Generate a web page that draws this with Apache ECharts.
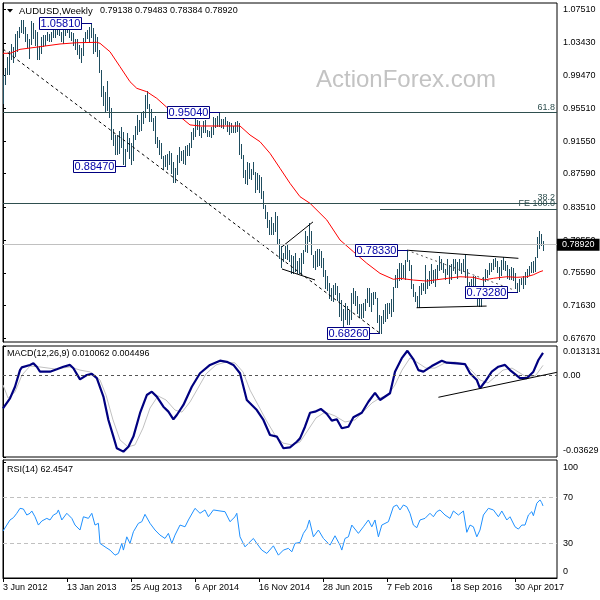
<!DOCTYPE html>
<html><head><meta charset="utf-8">
<script src="https://cdn.jsdelivr.net/npm/echarts@6/dist/echarts.min.js"></script>
<style>html,body{margin:0;padding:0;background:#fff}#c{width:600px;height:600px}</style>
</head><body><div id="c"></div>
<script>
// ---------- DATA ----------
const symbolTitle = 'AUDUSD,Weekly';
const lastOHLC = ['0.79138', '0.79483', '0.78384', '0.78920'];
const lastClose = 0.7892;

// weekly bars, first bar = week of 3 Jun 2012
const barHigh = [
0.9960,1.0040,1.0170,1.0245,1.0330,1.0290,1.0445,1.0485,1.0530,1.0615,
1.0625,1.0530,1.0450,1.0390,1.0610,1.0580,1.0500,1.0470,1.0300,1.0420,
1.0440,1.0440,1.0480,1.0455,1.0480,1.0500,1.0520,1.0560,1.0560,1.0480,
1.0500,1.0560,1.0600,1.0585,1.0470,1.0460,1.0390,1.0385,1.0320,1.0280,
1.0400,1.0480,1.0495,1.0530,1.0581,1.0520,1.0450,1.0420,1.0260,1.0010,
0.9820,0.9750,0.9880,0.9690,0.9560,0.9300,0.9230,0.9230,0.9280,0.9320,
0.9260,0.9060,0.9250,0.9190,0.9130,0.9230,0.9340,0.9465,0.9410,0.9490,
0.9520,0.9710,0.9757,0.9600,0.9540,0.9430,0.9460,0.9200,0.9170,0.9130,
0.8970,0.8980,0.9000,0.9030,0.9010,0.8900,0.8830,0.8990,0.9080,0.9030,
0.9050,0.9100,0.9110,0.9130,0.9260,0.9310,0.9461,0.9410,0.9400,0.9330,
0.9400,0.9410,0.9290,0.9280,0.9320,0.9440,0.9430,0.9460,0.9504,0.9420,
0.9420,0.9440,0.9400,0.9380,0.9370,0.9340,0.9380,0.9400,0.9370,0.9120,
0.8990,0.8800,0.8900,0.8890,0.8820,0.8900,0.8780,0.8770,0.8740,0.8720,
0.8550,0.8380,0.8300,0.8200,0.8230,0.8160,0.8290,0.8250,0.7970,0.7880,
0.7800,0.7880,0.7910,0.7840,0.7780,0.7760,0.7800,0.7700,0.7740,0.7800,
0.7840,0.8070,0.8000,0.8163,0.8070,0.7780,0.7820,0.7850,0.7850,0.7820,
0.7740,0.7590,0.7520,0.7440,0.7380,0.7410,0.7440,0.7400,0.7320,0.7230,
0.7120,0.7200,0.7160,0.7100,0.7320,0.7380,0.7340,0.7280,0.7180,0.7180,
0.7200,0.7240,0.7380,0.7380,0.7320,0.7330,0.7330,0.7250,0.7050,0.7040,
0.7110,0.7180,0.7190,0.7200,0.7240,0.7390,0.7530,0.7600,0.7680,0.7680,
0.7660,0.7720,0.7833,0.7720,0.7660,0.7420,0.7330,0.7280,0.7400,0.7440,
0.7440,0.7650,0.7480,0.7580,0.7670,0.7590,0.7600,0.7650,0.7760,0.7730,
0.7680,0.7610,0.7730,0.7660,0.7670,0.7730,0.7730,0.7690,0.7730,0.7680,
0.7730,0.7778,0.7600,0.7450,0.7480,0.7520,0.7520,0.7330,0.7240,0.7320,
0.7510,0.7610,0.7590,0.7680,0.7680,0.7730,0.7740,0.7700,0.7630,0.7710,
0.7749,0.7700,0.7650,0.7600,0.7630,0.7620,0.7560,0.7440,0.7480,0.7500,
0.7520,0.7570,0.7600,0.7640,0.7690,0.7700,0.7750,0.7990,0.8066,0.8030,
0.7948];
const barLow = [
0.9615,0.9840,0.9970,0.9970,1.0150,1.0110,1.0180,1.0250,1.0410,1.0480,
1.0460,1.0360,1.0290,1.0160,1.0330,1.0400,1.0320,1.0150,1.0150,1.0220,
1.0310,1.0320,1.0380,1.0360,1.0360,1.0410,1.0420,1.0445,1.0440,1.0370,
1.0345,1.0440,1.0480,1.0420,1.0380,1.0320,1.0275,1.0205,1.0160,1.0115,
1.0200,1.0360,1.0400,1.0350,1.0420,1.0220,1.0240,1.0180,0.9990,0.9700,
0.9590,0.9520,0.9530,0.9450,0.9180,0.9110,0.9000,0.9000,0.9010,0.9080,
0.8880,0.8847,0.9040,0.8955,0.8880,0.8920,0.9180,0.9240,0.9280,0.9290,
0.9370,0.9450,0.9560,0.9400,0.9400,0.9290,0.9130,0.9080,0.8995,0.8950,
0.8820,0.8850,0.8820,0.8880,0.8770,0.8660,0.8660,0.8760,0.8900,0.8920,
0.8890,0.8880,0.8990,0.8980,0.9080,0.9180,0.9220,0.9300,0.9230,0.9200,
0.9260,0.9260,0.9210,0.9210,0.9200,0.9240,0.9320,0.9340,0.9340,0.9320,
0.9310,0.9360,0.9280,0.9240,0.9260,0.9270,0.9270,0.9280,0.9000,0.8950,
0.8720,0.8650,0.8640,0.8710,0.8700,0.8750,0.8540,0.8570,0.8540,0.8460,
0.8350,0.8220,0.8110,0.8035,0.8030,0.8030,0.8060,0.7920,0.7740,0.7625,
0.7700,0.7740,0.7730,0.7700,0.7560,0.7560,0.7580,0.7560,0.7560,0.7530,
0.7680,0.7820,0.7810,0.7940,0.7790,0.7630,0.7600,0.7640,0.7650,0.7630,
0.7520,0.7370,0.7350,0.7260,0.7230,0.7220,0.7300,0.7230,0.7040,0.6990,
0.6900,0.7000,0.6940,0.6935,0.7000,0.7200,0.7170,0.7070,0.7020,0.7010,
0.7020,0.7110,0.7210,0.7160,0.7100,0.7180,0.7250,0.6960,0.6826,0.6830,
0.6950,0.6975,0.7010,0.7070,0.7040,0.7100,0.7390,0.7390,0.7470,0.7480,
0.7510,0.7480,0.7700,0.7590,0.7370,0.7280,0.7220,0.7145,0.7150,0.7300,
0.7350,0.7320,0.7370,0.7410,0.7440,0.7450,0.7400,0.7500,0.7590,0.7600,
0.7570,0.7480,0.7550,0.7440,0.7480,0.7590,0.7560,0.7500,0.7590,0.7560,
0.7580,0.7510,0.7380,0.7310,0.7380,0.7370,0.7310,0.7170,0.7160,0.7160,
0.7310,0.7460,0.7510,0.7540,0.7580,0.7600,0.7640,0.7570,0.7490,0.7530,
0.7610,0.7590,0.7500,0.7490,0.7490,0.7470,0.7370,0.7328,0.7340,0.7420,
0.7370,0.7420,0.7510,0.7530,0.7570,0.7570,0.7580,0.7750,0.7860,0.7900,
0.7838];

// moving average (red), read at bar positions [barIndex, value]
const maLine = [[0,1.0217],[3.5,1.0217],[8.5,1.0265],[18.5,1.0297],[28.5,1.0330],[36.9,1.0345],[46.9,1.0350],[48.5,1.0338],
[53.5,1.0236],[58.5,1.0055],[63.5,0.9873],[66.9,0.9793],[71.9,0.9752],[76.9,0.9672],[81.9,0.9563],[88.5,0.9450],[93.5,0.9350],
[98.5,0.9337],[118.5,0.9337],[123.5,0.9228],[128.5,0.9147],[133.5,0.9006],[138.5,0.8825],[143.5,0.8643],[148.5,0.8481],
[153.5,0.8401],[161.9,0.8199],[168.5,0.7957],[175.2,0.7815],[181.9,0.7675],[188.5,0.7553],[195.2,0.7481],[198.5,0.7493],
[205.2,0.7472],[211.9,0.7460],[218.5,0.7481],[228.5,0.7512],[235.2,0.7505],[240.2,0.7472],[245.2,0.7493],[251.9,0.7512],
[256.9,0.7505],[261.9,0.7512],[265.2,0.7536],[268.5,0.7573],[270,0.7585]];

// labelled swing points
const noteIdx = [44, 61, 108, 188, 202, 257];
const notePrice = [1.0581, 0.8847, 0.9504, 0.6826, 0.7833, 0.7328];

// drawn trend lines [barIndex, price]
const trendMain = [[0,1.0269],[188.5,0.6828]];
const wedgeUpper = [[139.5,0.7875],[155,0.8176]];
const wedgeLower = [[139.5,0.7606],[156,0.7473]];
const channelUpper = [[202,0.7833],[257.7,0.7735]];
const channelLower = [[206.8,0.7137],[241.8,0.7157]];
const channelMid = [[202,0.7833],[254.5,0.7360]];

// fibonacci levels
const fibLevels = [0.9458, 0.8449];
const fibText = ['61.8', '38.2'];
const feLevel = 0.8328, feStart = 188.5, feText = 'FE 100.0';

// MACD panel
const macdTitle = 'MACD(12,26,9) 0.010062 0.004496';
const macdLine = [[0,-0.0146],[3.5,-0.0102],[6,-0.0050],[8.5,0.0024],[9.4,0.0036],[13.5,0.0047],[15.2,0.0054],[16.9,0.0039],
[18.5,0.0017],[23.5,0.0017],[26.9,0.0028],[30.2,0.0039],[33.5,0.0047],[35.2,0.0032],[38.5,-0.0017],[41.9,0.0002],[44.4,0.0007],
[46.9,-0.0012],[50.2,-0.0094],[52.7,-0.0198],[55.2,-0.0272],[56.9,-0.0324],[60.2,-0.0339],[62.7,-0.0317],[65.2,-0.0272],
[68.5,-0.0168],[71.9,-0.0087],[74.4,-0.0072],[76.9,-0.0094],[80.2,-0.0139],[82.7,-0.0161],[85.2,-0.0195],[86.9,-0.0176],
[90.2,-0.0131],[94.4,-0.0050],[98.5,0.0010],[103.5,0.0047],[108.5,0.0066],[111.9,0.0061],[115.2,0.0047],[118.5,0.0010],
[121.9,-0.0109],[126.9,-0.0154],[130.2,-0.0198],[133.5,-0.0265],[136.9,-0.0272],[140.2,-0.0324],[143.5,-0.0320],[146.9,-0.0295],
[148.5,-0.0280],[151,-0.0228],[153.5,-0.0166],[156,-0.0161],[158.9,-0.0149],[161.9,-0.0171],[164.4,-0.0201],[166.9,-0.0195],
[169.4,-0.0235],[172.7,-0.0228],[175.2,-0.0186],[179.4,-0.0166],[182.7,-0.0117],[186,-0.0077],[188.5,-0.0109],[193.5,-0.0079],
[196,0.0017],[199.4,0.0077],[202.2,0.0110],[205.2,0.0072],[207.7,0.0024],[210.2,0.0017],[214.4,0.0042],[219.4,0.0066],
[221.9,0.0057],[226.9,0.0054],[231,0.0051],[233.5,0.0010],[236.9,-0.0020],[238.5,-0.0057],[241,-0.0028],[244.4,0.0017],
[247.7,0.0039],[251,0.0047],[253.5,0.0024],[258.5,-0.0012],[261.9,-0.0012],[265.2,0.0017],[267.7,0.0069],[270,0.0101]];
const signalLine = [[0,-0.0042],[2.5,-0.0100],[6,-0.0073],[9.5,0.0002],[13.5,0.0042],[18.5,0.0038],[26,0.0029],[33.5,0.0038],
[38.5,0.0024],[43.5,0.0016],[48.5,-0.0020],[51.5,-0.0087],[55,-0.0198],[58.5,-0.0287],[62.5,-0.0318],[66,-0.0309],[70,-0.0234],
[73.5,-0.0145],[77.5,-0.0091],[81.5,-0.0109],[86,-0.0154],[89.5,-0.0163],[93.5,-0.0118],[97.5,-0.0056],[101.5,0.0007],
[106.5,0.0047],[111.5,0.0060],[116,0.0056],[120,0.0016],[123.5,-0.0065],[127.5,-0.0131],[131.5,-0.0198],[136,-0.0265],
[140,-0.0301],[144.5,-0.0309],[148.5,-0.0296],[152.5,-0.0243],[156.5,-0.0189],[161,-0.0163],[166,-0.0180],[171,-0.0207],
[176,-0.0198],[180,-0.0163],[184.5,-0.0122],[188.5,-0.0100],[192.5,-0.0087],[196,-0.0042],[199.5,0.0024],[203.5,0.0078],
[207.5,0.0056],[211.5,0.0033],[216,0.0033],[221,0.0056],[226,0.0060],[231,0.0051],[235,0.0016],[238.5,-0.0020],[242.5,-0.0033],
[246,-0.0007],[250,0.0024],[254.5,0.0033],[258.5,0.0011],[262.5,-0.0011],[266.5,0.0002],[270,0.0045]];
const macdTrend = [[217.7,-0.0097],[276.9,0.0014]];
const macdTicks = [0.013131, 0, -0.03629];
const macdTickText = ['0.013131', '0.00', '-0.03629'];

// RSI panel
const rsiTitle = 'RSI(14) 62.4547';
const rsiLine = [[0,40.7],[1.9,45.9],[3.5,50.3],[5.2,52.3],[6.9,56.1],[8.5,60.4],[10.2,59.8],[11.9,54.6],[13.5,56.1],[14.4,58.1],
[16,53.1],[17.7,45.9],[19.4,49.4],[21.9,51.7],[23.5,50.3],[25.2,54.6],[26.9,56.1],[27.7,59.0],[29.4,50.3],[31.9,56.1],[34.4,51.7],
[36,45.9],[38.5,41.6],[40.2,53.1],[42.7,51.7],[44.4,56.1],[46,45.9],[47.7,47.4],[48.5,30.0],[51,27.0],[53.5,24.2],[56,19.8],
[57.7,21.3],[59.4,30.0],[60.2,24.2],[61.9,35.7],[63.5,30.0],[65.2,40.1],[67.7,47.4],[69.4,48.8],[71,55.2],[73.5,47.4],[76,41.6],
[78.5,37.2],[81,34.3],[82.7,38.7],[84.4,30.0],[86,37.2],[88.5,45.9],[91,44.4],[92.7,50.3],[96,60.4],[98.5,56.1],[101,59.0],
[102.7,53.1],[105.2,59.0],[108.5,58.1],[111,57.5],[113.5,48.8],[116,53.1],[116.9,56.1],[118.5,35.7],[121,27.0],[122.7,30.0],
[125.2,34.3],[126.9,30.0],[129.4,24.2],[131.9,21.3],[135.2,27.9],[137.7,19.8],[140.2,24.2],[142.7,25.7],[144.4,22.7],[146,30.0],
[148.5,30.9],[150.2,38.7],[151.9,43.0],[153.2,50.3],[155.2,35.7],[157.7,41.6],[160.2,34.3],[163.5,28.5],[166,36.6],[168.5,28.5],
[169.4,24.2],[171,34.3],[172.7,35.7],[174.4,45.9],[177.7,38.7],[180.2,44.4],[182.7,50.3],[184.4,44.4],[186,50.3],[187.7,35.7],
[189.4,45.9],[192.7,48.8],[195.2,61.8],[196.9,63.3],[198.5,59.0],[200.2,63.3],[201.9,61.8],[203.5,56.1],[205.2,45.9],[206.9,43.6],
[208.5,50.3],[211,51.7],[213.5,56.1],[215.2,53.1],[216.9,57.5],[218.5,59.0],[221,54.6],[223.5,51.7],[225.2,58.1],[227.7,54.6],
[230.2,58.1],[231.9,39.6],[233.5,45.9],[235.2,44.4],[236.9,35.7],[238.5,41.6],[240.2,54.6],[242.7,60.4],[245.2,59.0],[247.7,53.1],
[249.4,58.1],[251.9,50.3],[253.5,53.1],[256,44.4],[257.7,42.4],[259.4,45.9],[261,45.9],[262.7,54.6],[264.4,57.5],[265.2,54.0],
[266.9,64.8],[268.5,67.7],[269.3,65.5],[270,62.5]];
const rsiTicks = [100, 70, 30, 0];
const rsiLevels = [70, 30];

// axes
const priceTicks = [1.0751,1.0343,0.9947,0.9551,0.9155,0.8759,0.8351,0.7955,0.7559,0.7163,0.6767];
const dateTickIdx = [0,32,64,96,128,160,192,224,256];
const dateTickText = ['3 Jun 2012','13 Jan 2013','25 Aug 2013','6 Apr 2014','16 Nov 2014','28 Jun 2015','7 Feb 2016','18 Sep 2016','30 Apr 2017'];

// ---------- CHART ----------
const FONT = '"Liberation Sans", Arial, sans-serif';
const BAR_COLOR = '#1f4d5f';
const chart = echarts.init(document.getElementById('c'), null, {renderer: 'canvas'});

function findIdx(arr, v) { return arr.findIndex(a => Math.abs(a - v) < 1e-9); }
const gridCommon = {left: 3, width: 554, show: true, borderColor: '#000', borderWidth: 1, containLabel: false, outerBoundsMode: 'none'};
const xBase = {type: 'value', min: 0, max: 277, splitLine: {show: false}};

const lineSeries = (data, color, opts) => Object.assign({
  type: 'line', data: data, symbol: 'none', silent: true, animation: false,
  lineStyle: {color: color, width: 1}, xAxisIndex: 0, yAxisIndex: 0, z: 3
}, opts || {});

const option = {
  animation: false,
  textStyle: {fontFamily: FONT},
  grid: [
    Object.assign({top: 3, height: 339}, gridCommon),
    Object.assign({top: 346, height: 111}, gridCommon),
    Object.assign({top: 460, height: 118}, gridCommon)
  ],
  xAxis: [
    Object.assign({gridIndex: 0, show: false}, xBase),
    Object.assign({gridIndex: 1, show: false}, xBase),
    Object.assign({gridIndex: 2, axisLine: {show: true, lineStyle: {color: '#000'}},
      axisTick: {show: true, length: 4, customValues: dateTickIdx, lineStyle: {color: '#000'}},
      axisLabel: {customValues: dateTickIdx, align: 'left', margin: 5, fontSize: 9, color: '#000', fontFamily: FONT,
        formatter: v => dateTickText[findIdx(dateTickIdx, v)] || ''}}, xBase)
  ],
  yAxis: [
    {type: 'value', gridIndex: 0, position: 'right', min: 0.6722, max: 1.0826, splitLine: {show: false},
      axisLine: {show: true, lineStyle: {color: '#000'}},
      axisTick: {show: true, length: 3, customValues: priceTicks, lineStyle: {color: '#000'}},
      axisLabel: {customValues: priceTicks, margin: 6, fontSize: 9, color: '#000', fontFamily: FONT, formatter: v => v.toFixed(5)}},
    {type: 'value', gridIndex: 1, position: 'right', min: -0.03629, max: 0.013131, splitLine: {show: false},
      axisLine: {show: true, lineStyle: {color: '#000'}},
      axisTick: {show: true, length: 3, customValues: macdTicks, lineStyle: {color: '#000'}},
      axisLabel: {customValues: macdTicks, margin: 6, fontSize: 9, color: '#000', fontFamily: FONT,
        formatter: v => { const k = findIdx(macdTicks, v); const t = macdTickText[k];
          return k === 0 ? '{dn|' + t + '}' : (k === macdTicks.length - 1 ? '{up|' + t + '}' : '{n|' + t + '}'); },
        rich: {dn: {padding: [12,0,0,0], fontSize: 9, color: '#000'}, up: {padding: [0,0,12,0], fontSize: 9, color: '#000'}, n: {fontSize: 9, color: '#000'}}}},
    {type: 'value', gridIndex: 2, position: 'right', min: 0, max: 102.3, splitLine: {show: false},
      axisLine: {show: true, lineStyle: {color: '#000'}},
      axisTick: {show: true, length: 3, customValues: rsiTicks, lineStyle: {color: '#000'}},
      axisLabel: {customValues: rsiTicks, margin: 6, fontSize: 9, color: '#000', fontFamily: FONT,
        formatter: v => v === 100 ? '{dn|100}' : (v === 0 ? '{up|0}' : '{n|' + v + '}'),
        rich: {dn: {padding: [10,0,0,0], fontSize: 9, color: '#000'}, up: {padding: [0,0,12,0], fontSize: 9, color: '#000'}, n: {fontSize: 9, color: '#000'}}}}
  ],
  graphic: [
    {type: 'text', z: 0, left: 316, top: 68, style: {text: 'ActionForex.com', fill: '#c3c3c3', font: '24px ' + FONT}},
    {type: 'polygon', shape: {points: [[7,9],[13,9],[10,12.5]]}, style: {fill: '#000'}},
    {type: 'text', x: 19, y: 11, style: {text: symbolTitle, fill: '#000', font: '9.5px ' + FONT, verticalAlign: 'middle'}},
    {type: 'text', x: 100, y: 11, style: {text: lastOHLC.join(' '), fill: '#000', font: '9px ' + FONT, verticalAlign: 'middle'}},
    {type: 'text', x: 7, y: 354, style: {text: macdTitle, fill: '#000', font: '9px ' + FONT, verticalAlign: 'middle'}},
    {type: 'text', x: 7, y: 470, style: {text: rsiTitle, fill: '#000', font: '9px ' + FONT, verticalAlign: 'middle'}}
  ],
  series: [
    {
      type: 'custom', name: 'bars', xAxisIndex: 0, yAxisIndex: 0, z: 2, silent: true, animation: false,
      data: barHigh.map((h, i) => [i, h, barLow[i]]),
      encode: {x: 0, y: [1, 2]},
      renderItem: (params, api) => {
        const hi = api.coord([api.value(0), api.value(1)]);
        const lo = api.coord([api.value(0), api.value(2)]);
        const x = Math.round(hi[0]) + 0.5;
        return {type: 'line', shape: {x1: x, y1: Math.round(hi[1]), x2: x, y2: Math.round(lo[1]) + 1},
          style: {stroke: BAR_COLOR, lineWidth: 1}};
      }
    },
    lineSeries(maLine, '#ff0000', {z: 3, markLine: {
      symbol: ['none', 'none'], silent: true, animation: false,
      data: [
        {yAxis: fibLevels[0], lineStyle: {color: '#2f4f4f', type: 'solid', width: 1},
          label: {show: true, position: 'insideEndTop', formatter: fibText[0], color: '#2f4f4f', fontSize: 9, distance: [2, 1]}},
        {yAxis: fibLevels[1], lineStyle: {color: '#2f4f4f', type: 'solid', width: 1},
          label: {show: true, position: 'insideEndTop', formatter: fibText[1], color: '#2f4f4f', fontSize: 9, distance: [2, 1]}},
        [{coord: [feStart, feLevel], lineStyle: {color: '#2f4f4f', type: 'solid', width: 1},
          label: {show: true, position: 'insideEndTop', formatter: feText, color: '#2f4f4f', fontSize: 9, distance: [2, 1]}},
         {coord: [277, feLevel]}],
        {yAxis: lastClose, lineStyle: {color: '#c0c0c0', type: 'solid', width: 1},
          label: {show: true, position: 'end', formatter: lastOHLC[3], color: '#fff', backgroundColor: '#000',
            padding: [2, 5, 1, 5], fontSize: 9, distance: 0}}
      ]}}),
    lineSeries(trendMain, '#000', {lineStyle: {color: '#000', width: 1, type: [3, 3]}}),
    lineSeries(wedgeUpper, '#000'),
    lineSeries(wedgeLower, '#000'),
    lineSeries(channelUpper, '#000'),
    lineSeries(channelLower, '#000'),
    lineSeries(channelMid, '#555', {lineStyle: {color: '#555', width: 1, type: [2, 3]}}),
    {
      type: 'custom', name: 'notes', xAxisIndex: 0, yAxisIndex: 0, z: 6, silent: true, animation: false, clip: false,
      data: noteIdx.map((i, k) => [i, notePrice[k]]),
      encode: {x: 0, y: 1},
      renderItem: (params, api) => {
        const p = api.coord([api.value(0), api.value(1)]);
        const x = Math.round(p[0]), y = Math.round(p[1]);
        const w = 42, h = 12, gap = 10;
        return {type: 'group', children: [
          {type: 'line', shape: {x1: x - gap, y1: y + 0.5, x2: x + 1, y2: y + 0.5}, style: {stroke: '#000080', lineWidth: 1}},
          {type: 'rect', shape: {x: x - gap - w + 0.5, y: y - 6 + 0.5, width: w, height: h}, style: {fill: '#fff', stroke: '#000080', lineWidth: 1}},
          {type: 'text', x: x - gap - w / 2 + 0.5, y: y + 1, style: {text: api.value(1).toFixed(5), fill: '#0000a8',
            font: '11px ' + FONT, align: 'center', verticalAlign: 'middle'}}
        ]};
      }
    },
    // MACD
    lineSeries(signalLine, '#c0c0c0', {xAxisIndex: 1, yAxisIndex: 1, z: 3}),
    lineSeries(macdLine, '#000080', {xAxisIndex: 1, yAxisIndex: 1, z: 4, lineStyle: {color: '#000080', width: 2.2},
      markLine: {symbol: ['none', 'none'], silent: true, animation: false, label: {show: false},
        data: [{yAxis: 0, lineStyle: {color: '#555', type: [3, 3], width: 1}}]}}),
    lineSeries(macdTrend, '#000', {xAxisIndex: 1, yAxisIndex: 1, z: 5}),
    // RSI
    lineSeries(rsiLine, '#1e90ff', {xAxisIndex: 2, yAxisIndex: 2, z: 4,
      markLine: {symbol: ['none', 'none'], silent: true, animation: false, label: {show: false},
        data: rsiLevels.map(v => ({yAxis: v, lineStyle: {color: '#c0c0c0', type: [4, 3], width: 1}}))}})
  ]
};
chart.setOption(option);
</script></body></html>
